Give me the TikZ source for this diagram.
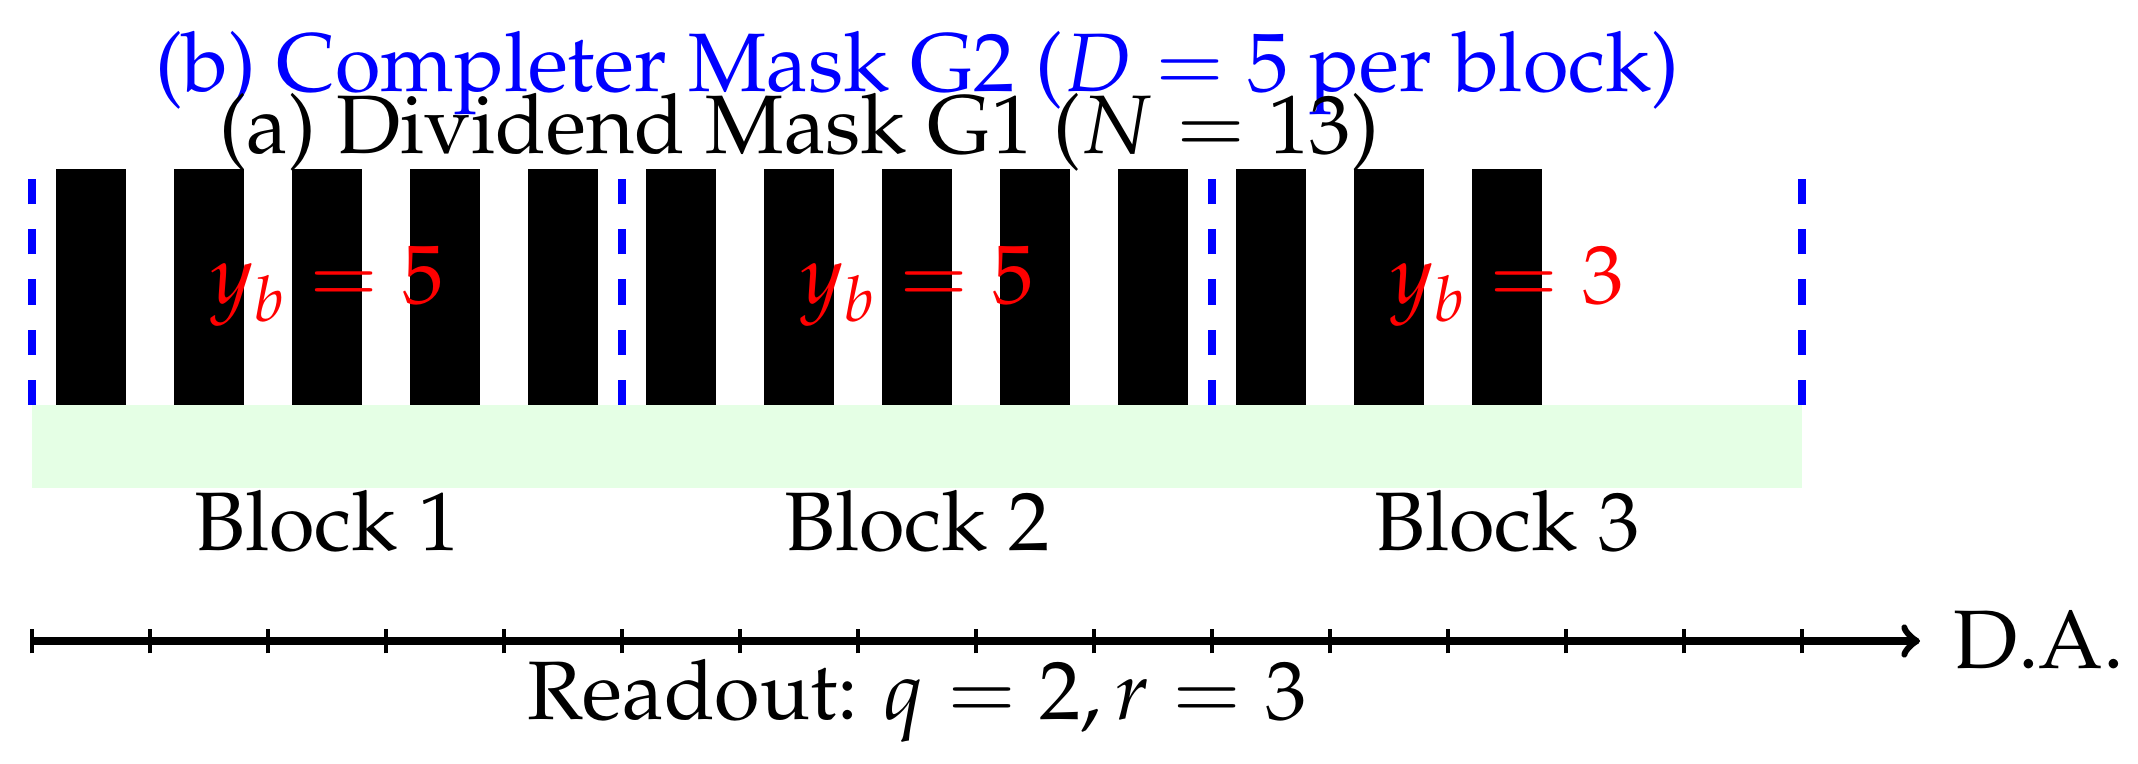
\documentclass[tikz,border=0pt]{standalone}
\usepackage[T1]{fontenc}
\usepackage{mathpazo}
\tikzset{
  txt/.style={font=\fontsize{20}{24}\selectfont, inner sep=0pt},
  barbox/.style={fill=black},
  greenbox/.style={fill=green!10},
  sepline/.style={blue, line width=1.9pt, dash pattern=on 6.1pt off 6pt},
  axisline/.style={line width=1.8pt, ->},
  tickline/.style={line width=1pt}
}
\begin{document}
\begin{tikzpicture}
\useasboundingbox (-0.271,-1.034) rectangle (17.847,5.432);
% green strips per block
\foreach \b in {0,5,10} \fill[greenbox] (\b,1.3) rectangle (\b+5,2);
% bars of mask G1
\foreach \i in {0,...,12} \fill[barbox] (\i+0.2,2) rectangle (\i+0.8,4);
% block separators
\foreach \x in {0,5,10,15} \draw[sepline] (\x,2) -- (\x,4);
% axis
\coordinate (o) at (0,0);
\coordinate (tip) at (16,0);
\foreach \x in {0,...,15} \draw[tickline] (\x,-0.104) -- (\x,0.104);
\draw[axisline] (o) -- (tip);
\node[txt, anchor=base west] (da) at (16.28,-0.237) {D.A.};
% titles
\node[txt, blue, anchor=base] (ttlb) at (7.5,4.655) {(b) Completer Mask G2 ($D=5$ per block)};
\node[txt, anchor=base] (ttla) at (6.5,4.127) {(a) Dividend Mask G1 ($N=13$)};
% counts
\node[txt, red] (yb1) at (2.5,3) {$y_b=5$};
\node[txt, red] (yb2) at (7.5,3) {$y_b=5$};
\node[txt, red] (yb3) at (12.5,3) {$y_b=3$};
% block labels
\node[txt, anchor=base] (bl1) at (2.5,0.771) {Block 1};
\node[txt, anchor=base] (bl2) at (7.5,0.771) {Block 2};
\node[txt, anchor=base] (bl3) at (12.5,0.771) {Block 3};
% readout
\node[txt, anchor=base] (ro) at (7.5,-0.669) {Readout: $q=2, r=3$};
\end{tikzpicture}
\end{document}
